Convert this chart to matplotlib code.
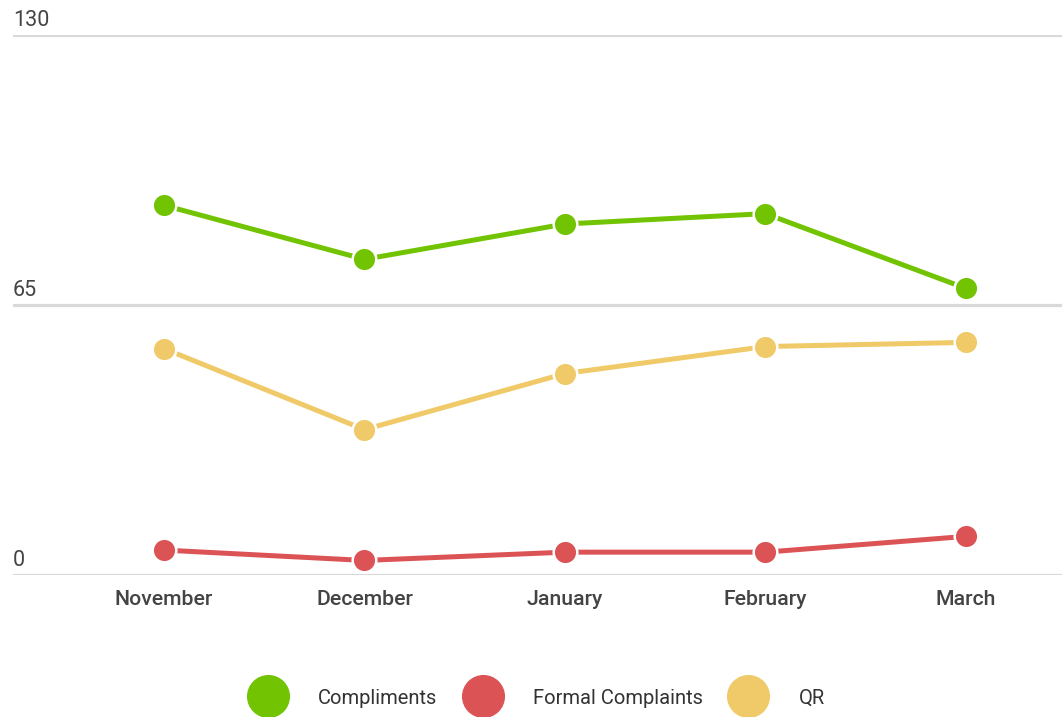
import matplotlib.pyplot as plt
from matplotlib.lines import Line2D
from matplotlib.transforms import ScaledTranslation

months = ['November', 'December', 'January', 'February', 'March']
compliments = [89, 76, 84.5, 87, 69]
formal_complaints = [6, 3.5, 5.5, 5.5, 9.3]
qr = [54.5, 35, 48.5, 55, 56]
y_ticks = [0, 65, 130]

series = [
    ('Compliments', compliments, '#72c402'),
    ('Formal Complaints', formal_complaints, '#dc5356'),
    ('QR', qr, '#f0ca68'),
]

plt.rcParams['font.family'] = ['Roboto', 'DejaVu Sans']

fig = plt.figure(figsize=(10.62, 7.17), dpi=100)
# axes box: left 13px, right 1062px, y=0 at 574px, y=130 at 35px
ax = fig.add_axes([13 / 1062, 1 - 575 / 717, 1049 / 1062, 540 / 717])

x = list(range(len(months)))
for name, vals, col in series:
    ax.plot(x, vals, color=col, lw=3.6, marker='o', ms=17,
            mec='white', mew=1.8, zorder=3, clip_on=False, label=name)

ax.set_ylim(0, 130)
ax.set_xlim(-0.753, 4.479)
ax.set_yticks(y_ticks)
ax.set_yticklabels([str(v) for v in y_ticks])
ax.grid(axis='y', color='#d9d9d9', lw=2.3, zorder=1)
ax.tick_params(axis='y', length=0, pad=0, labelsize=15.5, labelcolor='#444444')
off = ScaledTranslation(0, 4 / 100, fig.dpi_scale_trans)
for lab in ax.get_yticklabels():
    lab.set_ha('left')
    lab.set_va('bottom')
    lab.set_transform(lab.get_transform() + off)

ax.set_xticks(x)
ax.set_xticklabels(months, fontweight='medium')
ax.tick_params(axis='x', length=0, pad=11, labelsize=15.3, labelcolor='#444444')
for s in ax.spines.values():
    s.set_visible(False)

handles = [Line2D([], [], ls='none', marker='o', ms=30, color=c) for _, _, c in series]
fig.legend(handles, [n for n, _, _ in series], loc='center', ncol=3,
           bbox_to_anchor=(0.505, 1 - 698 / 717), frameon=False,
           fontsize=14.5, labelcolor='#333333', handletextpad=1.5,
           columnspacing=1.25)

fig.savefig('out.png', dpi=100)
